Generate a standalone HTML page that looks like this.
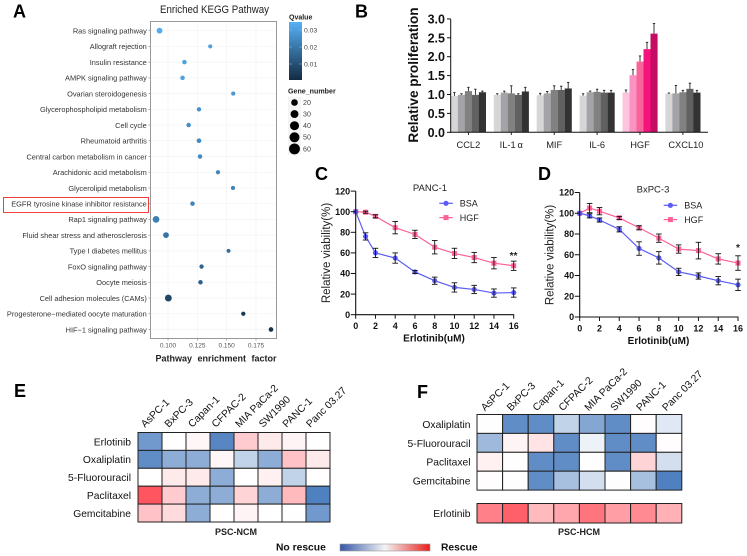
<!DOCTYPE html>
<html lang="en">
<head>
<meta charset="utf-8">
<title>Multi-panel figure</title>
<style>
html,body{margin:0;padding:0;background:#fff;width:747px;height:556px;overflow:hidden}
svg{display:block;font-family:"Liberation Sans",sans-serif}
.panel{font-size:18px;font-weight:bold;fill:#000}
</style>
</head>
<body>
<svg id="fig" width="747" height="556" viewBox="0 0 747 556" xmlns="http://www.w3.org/2000/svg">
<defs>
<linearGradient id="qgrad" x1="0" y1="0" x2="0" y2="1"><stop offset="0" stop-color="#56b1f7"/><stop offset="1" stop-color="#132b43"/></linearGradient>
<linearGradient id="rescue" x1="0" y1="0" x2="1" y2="0"><stop offset="0" stop-color="#3556a5"/><stop offset=".5" stop-color="#f4f4f6"/><stop offset="1" stop-color="#e8201c"/></linearGradient>
</defs>
<text class="panel" x="13" y="17.5">A</text>
<text class="panel" x="355" y="17.5">B</text>
<text class="panel" x="315" y="180">C</text>
<text class="panel" x="538" y="180">D</text>
<text class="panel" x="14" y="397">E</text>
<text class="panel" x="417" y="398">F</text>

<text x="160" y="13" font-size="11" textLength="109" lengthAdjust="spacingAndGlyphs" fill="#222">Enriched KEGG Pathway</text>
<text x="216" y="361.5" font-size="9" font-weight="bold" word-spacing="3" text-anchor="middle" fill="#222">Pathway enrichment factor</text>
<rect x="3.5" y="197.5" width="145" height="15" fill="none" stroke="#f04040" stroke-width="1"/>

<text x="289" y="19.5" font-size="7" font-weight="bold" fill="#222">Qvalue</text>
<rect x="289" y="22" width="13" height="58" fill="url(#qgrad)"/>
<text x="288" y="93.5" font-size="7.1" font-weight="bold" fill="#222">Gene_number</text>

<text transform="translate(418,75) rotate(-90)" font-size="13.6" font-weight="bold" text-anchor="middle" fill="#111">Relative proliferation</text>

<text x="430" y="191" font-size="9.5" text-anchor="middle" fill="#222">PANC-1</text>
<text transform="translate(330,253) rotate(-90)" font-size="11.5" text-anchor="middle" fill="#222">Relative viability(%)</text>
<text x="434" y="341.5" font-size="10" font-weight="bold" text-anchor="middle" fill="#111">Erlotinib(uM)</text>
<text x="513.5" y="259" font-size="10" font-weight="bold" text-anchor="middle" fill="#222">**</text>

<text x="653" y="192.5" font-size="9.5" text-anchor="middle" fill="#222">BxPC-3</text>
<text transform="translate(553.5,255) rotate(-90)" font-size="11.5" text-anchor="middle" fill="#222">Relative viability(%)</text>
<text x="658.5" y="344" font-size="10" font-weight="bold" text-anchor="middle" fill="#111">Erlotinib(uM)</text>
<text x="738" y="251" font-size="10" font-weight="bold" text-anchor="middle" fill="#222">*</text>

<text x="236" y="535" font-size="9" font-weight="bold" text-anchor="middle" fill="#222">PSC-NCM</text>
<text x="579" y="535" font-size="9" font-weight="bold" text-anchor="middle" fill="#222">PSC-HCM</text>
<text x="276" y="550.5" font-size="10.3" font-weight="bold" fill="#111">No rescue</text>
<rect x="340" y="544" width="90" height="7" fill="url(#rescue)" stroke="#999" stroke-width=".6"/>
<text x="441" y="550.5" font-size="10.3" font-weight="bold" fill="#111">Rescue</text>
</svg>

<script>
// ---------- Panel A data ----------
const pathwayNames = ["Ras signaling pathway","Allograft rejection","Insulin resistance","AMPK signaling pathway","Ovarian steroidogenesis","Glycerophospholipid metabolism","Cell cycle","Rheumatoid arthritis","Central carbon metabolism in cancer","Arachidonic acid metabolism","Glycerolipid metabolism","EGFR tyrosine kinase inhibitor resistance","Rap1 signaling pathway","Fluid shear stress and atherosclerosis","Type I diabetes mellitus","FoxO signaling pathway","Oocyte meiosis","Cell adhesion molecules (CAMs)","Progesterone\u2212mediated oocyte maturation","HIF\u22121 signaling pathway"];
const enrichmentFactors = [0.0928,0.136,0.114,0.1124,0.1556,0.1264,0.1176,0.1264,0.1273,0.1426,0.1554,0.1209,0.0898,0.0983,0.1516,0.1286,0.1277,0.1003,0.1642,0.1878];
const qValues = [0.034,0.031,0.031,0.031,0.028,0.027,0.026,0.025,0.025,0.024,0.023,0.023,0.022,0.019,0.017,0.015,0.014,0.007,0.004,0.002];
const geneNumbers = [20,10,12,12,10,11,12,13,12,11,10,12,27,20,9,11,12,28,11,13];
const enrichmentTicks = [0.100,0.125,0.150,0.175];
const qLegendTicks = [0.03,0.02,0.01];
const geneLegendValues = [20,30,40,50,60];

// ---------- Panel B data ----------
const cytokines = ["CCL2","IL-1\u2009\u03b1","MIF","IL-6","HGF","CXCL10"];
const proliferationValues = [
  [0.96,0.99,1.09,0.99,1.06],
  [0.99,1.05,1.03,0.99,1.08],
  [0.98,1.03,1.12,1.12,1.16],
  [0.97,1.06,1.07,1.05,1.05],
  [1.05,1.51,1.87,2.20,2.61],
  [1.02,1.03,1.06,1.15,1.05]
];
const proliferationErrorTops = [
  [1.05,1.02,1.19,1.14,1.09],
  [1.02,1.09,1.23,1.02,1.19],
  [1.03,1.08,1.23,1.22,1.32],
  [1.02,1.09,1.14,1.11,1.11],
  [1.12,1.66,2.02,2.38,2.88],
  [1.04,1.24,1.11,1.30,1.11]
];
const proliferationTicks = [0,0.5,1,1.5,2,2.5,3];

// ---------- Panels C / D data ----------
const doses = [0,1,2,4,6,8,10,12,14,16];
const doseTicks = [0,2,4,6,8,10,12,14,16];
const viabilityTicks = [0,20,40,60,80,100,120];
const panc1Bsa = [100,76,60,55,41.5,33,26.5,24.5,21,21.5];
const panc1BsaErr = [0,3.5,4.5,5,1.5,3.5,4.5,4,4,4.5];
const panc1Hgf = [100,99.5,95.5,84.5,78,65.5,59.5,55.5,50,47.5];
const panc1HgfErr = [0,1,1.5,6,4,6.5,5,5,5.5,4.5];
const bxpc3Bsa = [100,97.5,93.5,84.5,66,57,43.5,39.5,35,31];
const bxpc3BsaErr = [0,2,2,2.5,6.5,6,3.5,3,4,5.5];
const bxpc3Hgf = [100,105,102,95.5,86,76,65.5,64,56,52];
const bxpc3HgfErr = [0,4.5,3.5,1.5,2,4,4,8,5,7];

// ---------- Panels E / F data ----------
const cellLines = ["AsPC-1","BxPC-3","Capan-1","CFPAC-2","MIA PaCa-2","SW1990","PANC-1","Panc 03.27"];
const ncmDrugs = ["Erlotinib","Oxaliplatin","5-Fluorouracil","Paclitaxel","Gemcitabine"];
const ncmValues = [
  [-0.8,0.01,0.1,-0.95,0.4,0.2,0.12,0.01],
  [-0.9,-0.65,-0.65,0.1,-0.35,-0.65,0.45,0.2],
  [0,0.2,0.2,-0.65,0,0.15,-0.35,0],
  [1,0.4,-0.65,-0.65,0.35,-0.65,0.5,-1],
  [0.45,0.3,-0.65,0,0.12,0,0.02,-0.8]
];
const hcmDrugs = ["Oxaliplatin","5-Fluorouracil","Paclitaxel","Gemcitabine"];
const hcmValues = [
  [0.02,-0.9,-0.9,-0.35,-0.7,-0.9,0.03,-0.18],
  [-0.55,0.12,0.25,-0.9,-0.1,-0.9,-0.9,0.03],
  [0.15,0.02,-0.9,-0.9,0.02,-0.9,0.35,-0.25],
  [0.03,0.02,-0.9,-0.5,-0.25,0.02,-0.5,-1]
];
const hcmErlotinibValues = [0.8,0.95,0.5,0.6,0.85,0.65,0.75,0.55];

// ---------- Helpers ----------
const svg = document.getElementById('fig');
const NS = 'http://www.w3.org/2000/svg';
function add(tag, name, attrs, text) {
  const el = document.createElementNS(NS, tag);
  
  
  for (const k in attrs) el.setAttribute(k, attrs[k]);
  if (text !== undefined) el.textContent = text;
  svg.appendChild(el);
  return el;
}
function line(name, x1, y1, x2, y2, stroke, w) {
  return add('line', name, {x1:x1, y1:y1, x2:x2, y2:y2, stroke:stroke, 'stroke-width':w});
}
function slug(s) { return String(s).toLowerCase().replace(/[^a-z0-9.]+/g, '-'); }

// ---------- Panel A ----------
const keggX = v => 168 + (v - 0.1) * 1173;
const keggY = i => 30.7 + i * 15.725;
const geneR = n => Math.sqrt(n) * 0.65;
function qColor(q) {
  const t = Math.max(0, Math.min(1, q / 0.035));
  const lo = [19,43,67], hi = [86,177,247];
  const c = lo.map((l, i) => Math.round(l + (hi[i] - l) * t));
  return 'rgb(' + c.join(',') + ')';
}
enrichmentTicks.forEach(t => {
  line('kegg-gridline-x', keggX(t), 22, keggX(t), 338, '#f3f3f3', 0.7);
});
pathwayNames.forEach((p, i) => {
  line('kegg-gridline-y', 151, keggY(i), 276, keggY(i), '#f3f3f3', 0.7);
  line('kegg-tick-y', 148.5, keggY(i), 150.5, keggY(i), '#777', 0.6);
  add('text', 'kegg-pathway-label', {x:146.8, y:keggY(i) + 2.8, 'font-size':7.4, 'text-anchor':'end', fill:'#333'}, p);
});
add('rect', 'kegg-plot-frame', {x:150.5, y:21.5, width:126, height:317, fill:'none', stroke:'#999', 'stroke-width':1});
enrichmentTicks.forEach(t => {
  line('kegg-tick-x', keggX(t), 338.5, keggX(t), 340.5, '#777', 0.6);
  add('text', 'kegg-x-tick-label', {x:keggX(t), y:347.5, 'font-size':6.5, 'text-anchor':'middle', fill:'#555'}, t.toFixed(3));
});
pathwayNames.forEach((p, i) => {
  add('circle', 'kegg-dot-' + slug(p), {cx:keggX(enrichmentFactors[i]), cy:keggY(i), r:geneR(geneNumbers[i]), fill:qColor(qValues[i])});
});
qLegendTicks.forEach(q => {
  const y = 81 - q * 1700;
  line('qvalue-tick', 289, y, 292, y, '#8fc0e8', 0.5);
  line('qvalue-tick', 299, y, 302, y, '#8fc0e8', 0.5);
  add('text', 'qvalue-legend-label', {x:304, y:y + 2.3, 'font-size':6.8, fill:'#444'}, q.toFixed(2));
});
geneLegendValues.forEach((n, i) => {
  const y = 102.5 + i * 11.6;
  add('rect', 'gene-legend-key', {x:288, y:y - 5.8, width:13, height:11.6, fill:'#f4f4f4'});
  add('circle', 'gene-legend-dot', {cx:294.5, cy:y, r:geneR(n) + 0.4, fill:'#000'});
  add('text', 'gene-legend-label', {x:303, y:y + 2.4, 'font-size':7.1, fill:'#444'}, n);
});

// ---------- Panel B ----------
const barY = v => 132.3 - v * 37.8;
const groupX = i => 450.9 + i * 42.9;
const barW = 7;
const greyShades = ['#d6d6d6','#a4a4a8','#818181','#616161','#333333'];
const pinkShades = ['#fdc4de','#fa92c2','#f8639a','#f5137d','#c60b64'];
cytokines.forEach((c, g) => {
  const shades = c === 'HGF' ? pinkShades : greyShades;
  proliferationValues[g].forEach((v, b) => {
    const x = groupX(g) + b * barW;
    add('rect', 'bar-' + slug(c) + '-' + (b + 1), {x:x, y:barY(v), width:barW + 0.1, height:132.3 - barY(v), fill:shades[b]});
    const cx = x + barW / 2;
    const top = barY(proliferationErrorTops[g][b]);
    line('bar-error', cx, barY(v), cx, top, '#222', 0.9);
    line('bar-error-cap', cx - 1.2, top, cx + 1.2, top, '#222', 0.9);
  });
  const mid = groupX(g) + 2.5 * barW;
  line('proliferation-tick-x', mid, 132.3, mid, 135, '#111', 0.9);
  add('text', 'proliferation-x-label', {x:mid + (g === 5 ? 3 : 0), y:148, 'font-size':9.3, 'text-anchor':'middle', fill:'#222'}, c);
});
line('proliferation-y-axis', 450.7, 19, 450.7, 132.8, '#111', 1);
line('proliferation-x-axis', 450.2, 132.3, 708, 132.3, '#111', 1);
proliferationTicks.forEach(t => {
  line('proliferation-tick-y', 447, barY(t), 450.7, barY(t), '#111', 1);
  add('text', 'proliferation-y-tick-label', {x:445, y:barY(t) + 4.5, 'font-size':12.5, 'font-weight':'bold', 'text-anchor':'end', fill:'#111'}, t.toFixed(1));
});

// ---------- Panels C / D ----------
function viabilityChart(prefix, x0, xScale, y0, yScale, bsa, bsaErr, hgf, hgfErr, lx, ly) {
  const X = d => x0 + d * xScale;
  const Y = v => y0 - v * yScale;
  const series = [
    {key:'hgf', label:'HGF', vals:hgf, errs:hgfErr, color:'#ff6097'},
    {key:'bsa', label:'BSA', vals:bsa, errs:bsaErr, color:'#5a5af5'}
  ];
  series.forEach(s => {
    add('polyline', prefix + '-' + s.key + '-line', {points:s.vals.map((v, i) => X(doses[i]) + ',' + Y(v)).join(' '), fill:'none', stroke:s.color, 'stroke-width':1.2});
  });
  series.forEach(s => {
    s.vals.forEach((v, i) => {
      const x = X(doses[i]), e = s.errs[i];
      if (s.key === 'hgf') add('rect', prefix + '-hgf-point', {x:x - 2.5, y:Y(v) - 2.5, width:5, height:5, fill:s.color});
      else add('circle', prefix + '-bsa-point', {cx:x, cy:Y(v), r:2.6, fill:s.color});
      if (e > 0) {
        line(prefix + '-error', x, Y(v - e), x, Y(v + e), '#111', 0.9);
        line(prefix + '-error-cap', x - 2.8, Y(v + e), x + 2.8, Y(v + e), '#111', 0.9);
        line(prefix + '-error-cap', x - 2.8, Y(v - e), x + 2.8, Y(v - e), '#111', 0.9);
      }
    });
  });
  line(prefix + '-y-axis', x0, Y(120), x0, y0, '#111', 1.1);
  line(prefix + '-x-axis', x0 - 0.5, y0, X(16) + 0.5, y0, '#111', 1.1);
  viabilityTicks.forEach(t => {
    line(prefix + '-tick-y', x0 - 5, Y(t), x0, Y(t), '#111', 1);
    add('text', prefix + '-y-tick-label', {x:x0 - 5.5, y:Y(t) + 3.2, 'font-size':9, 'font-weight':'bold', 'text-anchor':'end', fill:'#111'}, t);
  });
  doseTicks.forEach(t => {
    line(prefix + '-tick-x', X(t), y0, X(t), y0 + 4, '#111', 1);
    add('text', prefix + '-x-tick-label', {x:X(t), y:y0 + 14.5, 'font-size':9, 'font-weight':'bold', 'text-anchor':'middle', fill:'#111'}, t);
  });
  line(prefix + '-legend-bsa-line', lx, ly, lx + 13.5, ly, '#5a5af5', 1.2);
  add('circle', prefix + '-legend-bsa-marker', {cx:lx + 6.7, cy:ly, r:2.6, fill:'#5a5af5'});
  add('text', prefix + '-legend-bsa-label', {x:lx + 20.5, y:ly + 3.3, 'font-size':9, fill:'#222'}, 'BSA');
  line(prefix + '-legend-hgf-line', lx, ly + 14.3, lx + 13.5, ly + 14.3, '#ff6097', 1.2);
  add('rect', prefix + '-legend-hgf-marker', {x:lx + 4.2, y:ly + 11.8, width:5, height:5, fill:'#ff6097'});
  add('text', prefix + '-legend-hgf-label', {x:lx + 20.5, y:ly + 17.6, 'font-size':9, fill:'#222'}, 'HGF');
}
viabilityChart('panc1', 355.7, 9.875, 314.7, 1.03, panc1Bsa, panc1BsaErr, panc1Hgf, panc1HgfErr, 439.3, 203.3);
viabilityChart('bxpc3', 579.7, 9.894, 317, 1.0375, bxpc3Bsa, bxpc3BsaErr, bxpc3Hgf, bxpc3HgfErr, 663.7, 205.3);

// ---------- Panels E / F ----------
function heatColor(v) {
  const a = Math.min(1, Math.abs(v));
  const t = v < 0 ? a : Math.pow(a, 1.3);
  const end = v < 0 ? [79,128,192] : [255,85,96];
  const c = end.map(e => Math.round(255 + (e - 255) * t));
  return 'rgb(' + c.join(',') + ')';
}
function heatRow(prefix, rowName, vals, x0, y0, cw, ch) {
  vals.forEach((v, c) => {
    add('rect', prefix + '-cell-' + slug(rowName) + '-' + slug(cellLines[c]), {x:x0 + c * cw, y:y0, width:cw, height:ch, fill:heatColor(v), stroke:'#222', 'stroke-width':1});
  });
}
ncmDrugs.forEach((d, r) => {
  const y = 432.5 + r * 17.9;
  heatRow('ncm', d, ncmValues[r], 138, y, 24, 17.9);
  add('text', 'ncm-row-label', {x:131, y:y + 12.8, 'font-size':10.3, 'text-anchor':'end', fill:'#111'}, d);
});
cellLines.forEach((c, i) => {
  add('text', 'ncm-column-label', {transform:'translate(' + (145 + i * 23.6) + ',428) rotate(-45)', 'font-size':10.3, fill:'#111'}, c);
});
hcmDrugs.forEach((d, r) => {
  const y = 414.5 + r * 18.9;
  heatRow('hcm', d, hcmValues[r], 477, y, 25.6, 18.9);
  add('text', 'hcm-row-label', {x:470.5, y:y + 13.4, 'font-size':10.3, 'text-anchor':'end', fill:'#111'}, d);
});
heatRow('hcm', 'Erlotinib', hcmErlotinibValues, 477, 503.5, 25.6, 19.5);
add('text', 'hcm-erlotinib-label', {x:470.5, y:517, 'font-size':10.3, 'text-anchor':'end', fill:'#111'}, 'Erlotinib');
cellLines.forEach((c, i) => {
  add('text', 'hcm-column-label', {transform:'translate(' + (485 + i * 25.9) + ',411.5) rotate(-45)', 'font-size':10.3, fill:'#111'}, c);
});
</script>
</body>
</html>
